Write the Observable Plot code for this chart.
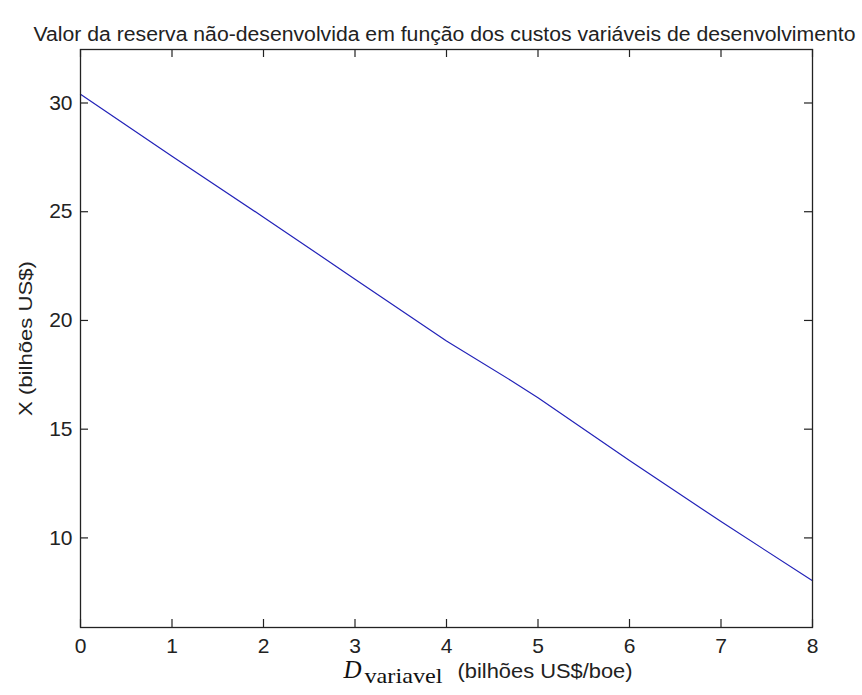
<!DOCTYPE html>
<html><head><meta charset="utf-8">
<script src="https://cdn.jsdelivr.net/npm/d3@7"></script>
<script src="https://cdn.jsdelivr.net/npm/@observablehq/plot@0.6"></script>
<style>body{margin:0;background:#fff}</style>
</head><body><div id="chart"></div>
<script>
const dVariavel = [0, 1, 2, 3, 4, 4.7, 5, 6, 7, 8];
const valorX = [30.4, 27.55, 24.75, 21.9, 19.05, 17.25, 16.45, 13.56, 10.75, 8.03];
const xTicks = [0, 1, 2, 3, 4, 5, 6, 7, 8];
const yTicks = [10, 15, 20, 25, 30];
const titleText = "Valor da reserva não-desenvolvida em função dos custos variáveis de desenvolvimento";
const yLabelText = "X (bilhões US$)";
const xLabelMain = "D";
const xLabelSub = "variavel";
const xLabelUnit = "(bilhões US$/boe)";

const data = dVariavel.map((d, i) => ({d, v: valorX[i]}));
const W = 862, H = 695, mL = 80, mR = 50, mT = 49, mB = 68;
const fw = W - mL - mR, fh = H - mT - mB, tk = 8;
const ink = "#222";

const svg = Plot.plot({
  width: W, height: H,
  marginLeft: mL, marginRight: mR, marginTop: mT, marginBottom: mB,
  style: {fontFamily: "'Liberation Sans', Arial, sans-serif", fontSize: "20px", color: ink, background: "#fff"},
  x: {domain: [0, 8], label: null},
  y: {domain: [5.88, 32.46], label: null},
  marks: [
    Plot.line(data, {x: "d", y: "v", stroke: "#2222b8", strokeWidth: 1.2}),
    Plot.ruleX(xTicks, {x: d => d, insetTop: fh - tk, stroke: ink, strokeWidth: 1.2}),
    Plot.ruleX(xTicks, {x: d => d, insetBottom: fh - tk, stroke: ink, strokeWidth: 1.2}),
    Plot.ruleY(yTicks, {y: d => d, insetRight: fw - tk, stroke: ink, strokeWidth: 1.2}),
    Plot.ruleY(yTicks, {y: d => d, insetLeft: fw - tk, stroke: ink, strokeWidth: 1.2}),
    Plot.frame({stroke: ink, strokeWidth: 1.3}),
    Plot.axisX(xTicks, {tickSize: 0, tickPadding: 11, fontSize: 21, fill: ink, label: null}),
    Plot.axisY(yTicks, {tickSize: 0, tickPadding: 8, fontSize: 21, fill: ink, label: null}),
    Plot.text([titleText], {text: d => d, frameAnchor: "top", dx: -2, dy: -23, fontSize: 20, fill: ink}),
    Plot.text([yLabelText], {text: d => d, frameAnchor: "left", textAnchor: "middle", dx: -55, dy: 0, rotate: -90, fontSize: 19, fill: ink}),
    Plot.text([xLabelMain], {text: d => d, frameAnchor: "bottom-left", textAnchor: "start", dx: 263, dy: 50, fontSize: 25, fontStyle: "italic", fontFamily: "'Liberation Serif', 'DejaVu Serif', serif", fill: "#111"}),
    Plot.text([xLabelSub], {text: d => d, frameAnchor: "bottom-left", textAnchor: "start", dx: 284, dy: 55, fontSize: 21, fontFamily: "'Liberation Serif', 'DejaVu Serif', serif", fill: "#111"}),
    Plot.text([xLabelUnit], {text: d => d, frameAnchor: "bottom", dx: 544.5 - (mL + fw / 2), dy: 50, fontSize: 20, fill: ink})
  ]
});

const widths = new Map([[titleText, 822], [yLabelText, 155], [xLabelSub, 78], [xLabelUnit, 175]]);
svg.querySelectorAll("text").forEach(t => {
  const w = widths.get(t.textContent);
  if (w) { t.setAttribute("textLength", w); t.setAttribute("lengthAdjust", "spacingAndGlyphs"); }
});
document.getElementById("chart").appendChild(svg);
</script>
</body></html>
